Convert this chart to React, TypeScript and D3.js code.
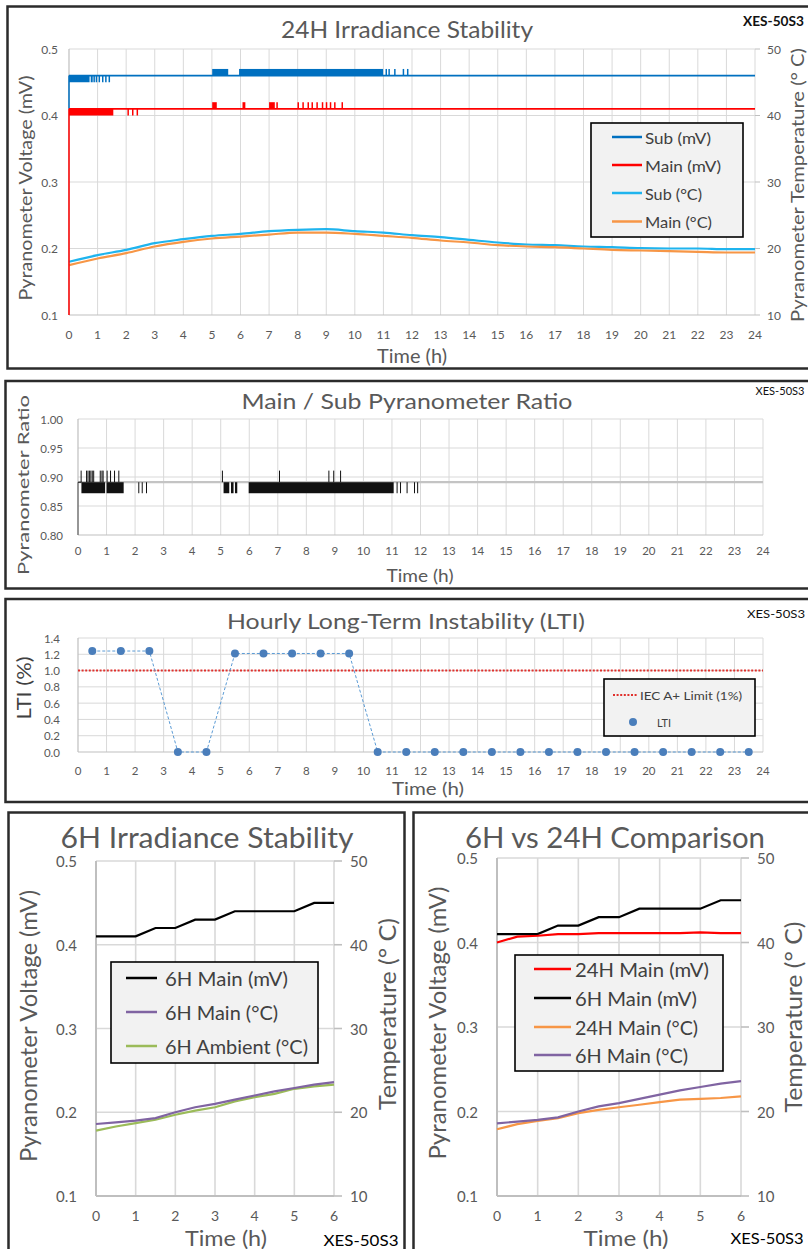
import React, { useRef, useEffect } from 'react'
import * as d3 from 'd3'

// ---------- shared tick labels ----------
const hourTicks24 = [0, 1, 2, 3, 4, 5, 6, 7, 8, 9, 10, 11, 12, 13, 14, 15, 16, 17, 18, 19, 20, 21, 22, 23, 24]
const hourTicks6 = [0, 1, 2, 3, 4, 5, 6]
const voltTicks = [0.1, 0.2, 0.3, 0.4, 0.5]
const tempTicks = [10, 20, 30, 40, 50]
const ratioTicks = [0.8, 0.85, 0.9, 0.95, 1.0]
const ltiTicks = [0, 0.2, 0.4, 0.6, 0.8, 1.0, 1.2, 1.4]

// ---------- 24H irradiance stability ----------
const subTempC = [18.0, 19.0, 19.8, 20.8, 21.4, 21.9, 22.2, 22.6, 22.8, 22.9, 22.6, 22.4, 22.0, 21.7, 21.3, 20.9, 20.6, 20.5, 20.3, 20.2, 20.05, 20.0, 20.0, 19.9, 19.9]
const mainTempC = [17.5, 18.5, 19.3, 20.3, 21.0, 21.5, 21.8, 22.1, 22.4, 22.4, 22.2, 21.9, 21.6, 21.2, 20.9, 20.5, 20.3, 20.2, 20.0, 19.8, 19.7, 19.6, 19.5, 19.4, 19.4]

const subStartMv = 0.41
const subBaseMv = 0.46
const subLowMv = 0.45
const subHighMv = 0.47
const subLowBlocks = [[0, 0.72], [0.76, 0.83]]
const subLowTicks = [0.88, 0.96, 1.06, 1.18, 1.29, 1.41]
const subHighBlocks = [[5.01, 5.57], [5.95, 10.99]]
const subHighTicks = [11.1, 11.2, 11.4, 11.7, 11.85]

const mainStartMv = 0.1
const mainBaseMv = 0.41
const mainLowMv = 0.40
const mainHighMv = 0.42
const mainLowBlocks = [[0, 1.55]]
const mainLowTicks = [2.07, 2.23, 2.39]
const mainHighBlocks = [[5.01, 5.17], [6.07, 6.17], [7.0, 7.2]]
const mainHighTicks = [7.28, 8.02, 8.19, 8.37, 8.51, 8.68, 8.87, 9.01, 9.15, 9.3, 9.56]

// ---------- main / sub ratio ----------
const ratioStart = 0.24
const ratioBase = 0.891
const ratioLow = 0.872
const ratioHigh = 0.911
const ratioLowBlocks = [[0.12, 0.95], [1.0, 1.6], [5.1, 5.3], [5.36, 5.45], [5.5, 5.58], [5.98, 11.06]]
const ratioLowTicks = [2.13, 2.25, 2.4, 11.18, 11.3, 11.53, 11.79, 11.9]
const ratioHighTicks = [0.11, 0.3, 0.35, 0.4, 0.45, 0.5, 0.55, 0.78, 0.84, 0.88, 1.02, 1.14, 1.28, 1.43, 5.06, 7.06, 8.79, 8.96, 9.2]

// ---------- hourly LTI ----------
const ltiHours = [0.5, 1.5, 2.5, 3.5, 4.5, 5.5, 6.5, 7.5, 8.5, 9.5, 10.5, 11.5, 12.5, 13.5, 14.5, 15.5, 16.5, 17.5, 18.5, 19.5, 20.5, 21.5, 22.5, 23.5]
const ltiValues = [1.24, 1.24, 1.24, 0, 0, 1.21, 1.21, 1.21, 1.21, 1.21, 0, 0, 0, 0, 0, 0, 0, 0, 0, 0, 0, 0, 0, 0]
const iecLimit = 1.0

// ---------- 6H runs ----------
const hours6 = [0, 0.5, 1, 1.5, 2, 2.5, 3, 3.5, 4, 4.5, 5, 5.5, 6]
const main6Mv = [0.41, 0.41, 0.41, 0.42, 0.42, 0.43, 0.43, 0.44, 0.44, 0.44, 0.44, 0.45, 0.45]
const main6TempC = [18.6, 18.8, 19.0, 19.3, 20.0, 20.6, 21.0, 21.5, 22.0, 22.5, 22.9, 23.3, 23.6]
const ambient6TempC = [17.8, 18.3, 18.7, 19.1, 19.7, 20.2, 20.6, 21.3, 21.8, 22.2, 22.8, 23.1, 23.3]
const main24Mv6 = [0.400, 0.407, 0.408, 0.410, 0.410, 0.411, 0.411, 0.411, 0.411, 0.411, 0.412, 0.411, 0.411]
const main24TempC6 = [17.9, 18.5, 18.9, 19.2, 19.8, 20.2, 20.5, 20.8, 21.1, 21.4, 21.5, 21.6, 21.8]

const FONT = 'Lato, "Open Sans", sans-serif'
const GRID = '#d9d9d9'
const AXIS = '#bfbfbf'
const GREY = '#595959'
const LEG = '#404040'

type Sel = d3.Selection<SVGGElement, unknown, null, undefined>
type Lin = d3.ScaleLinear<number, number>

interface TextOpts {
  size: number
  fill?: string
  anchor?: string
  weight?: string
  rotate?: number
  len?: number
}

function label(g: Sel, x: number, y: number, s: string, o: TextOpts) {
  const t = g.append('text')
    .attr('x', x)
    .attr('y', y)
    .attr('dominant-baseline', 'central')
    .attr('text-anchor', o.anchor || 'middle')
    .attr('font-family', FONT)
    .attr('font-size', o.size)
    .attr('font-weight', o.weight || 'normal')
    .attr('fill', o.fill || GREY)
    .text(s)
  if (o.rotate) t.attr('transform', `rotate(${o.rotate},${x},${y})`)
  if (o.len) t.attr('textLength', o.len).attr('lengthAdjust', 'spacingAndGlyphs')
  return t
}

function frame(g: Sel, x0: number, y0: number, x1: number, y1: number) {
  g.append('rect')
    .attr('x', x0).attr('y', y0)
    .attr('width', x1 - x0).attr('height', y1 - y0)
    .attr('fill', 'none')
    .attr('stroke', '#2b2b2b')
    .attr('stroke-width', 2.5)
}

function grid(g: Sel, x: Lin, y: Lin, xt: number[], yt: number[], w = 1, aw = 1.2) {
  const [ya, yb] = y.range()
  const [xa, xb] = x.range()
  g.selectAll(null).data(xt.slice(1)).join('line')
    .attr('x1', d => x(d)).attr('x2', d => x(d))
    .attr('y1', ya).attr('y2', yb)
    .attr('stroke', GRID).attr('stroke-width', w)
  g.selectAll(null).data(yt.slice(1)).join('line')
    .attr('x1', xa).attr('x2', xb)
    .attr('y1', d => y(d)).attr('y2', d => y(d))
    .attr('stroke', GRID).attr('stroke-width', w)
  g.append('line').attr('x1', xa).attr('x2', xa).attr('y1', ya).attr('y2', yb)
    .attr('stroke', AXIS).attr('stroke-width', aw)
  g.append('line').attr('x1', xa).attr('x2', xb).attr('y1', ya).attr('y2', ya)
    .attr('stroke', AXIS).attr('stroke-width', aw)
}

function rightTicks(g: Sel, x: Lin, y: Lin, yt: number[], len: number, w: number) {
  const xr = x.range()[1]
  g.selectAll(null).data(yt).join('line')
    .attr('x1', xr).attr('x2', xr + len)
    .attr('y1', d => y(d)).attr('y2', d => y(d))
    .attr('stroke', AXIS).attr('stroke-width', w)
}

// dense toggling between a base level and another level, drawn as blocks and single ticks
function toggles(g: Sel, x: Lin, y: Lin, base: number, level: number, blocks: number[][], ticks: number[], color: string, tw: number) {
  g.selectAll(null).data(blocks).join('rect')
    .attr('x', d => x(d[0]))
    .attr('width', d => x(d[1]) - x(d[0]))
    .attr('y', Math.min(y(base), y(level)))
    .attr('height', Math.abs(y(base) - y(level)))
    .attr('fill', color)
  g.selectAll(null).data(ticks).join('line')
    .attr('x1', d => x(d)).attr('x2', d => x(d))
    .attr('y1', y(base)).attr('y2', y(level))
    .attr('stroke', color).attr('stroke-width', tw)
}

function legendRow(g: Sel, x0: number, x1: number, tx: number, y: number, color: string, s: string, size: number, len: number, w: number) {
  g.append('line').attr('x1', x0).attr('x2', x1).attr('y1', y).attr('y2', y)
    .attr('stroke', color).attr('stroke-width', w)
  label(g, tx, y, s, { size, anchor: 'start', fill: LEG, len })
}

function legendBox(g: Sel, x: number, y: number, w: number, h: number) {
  g.append('rect').attr('x', x).attr('y', y).attr('width', w).attr('height', h)
    .attr('fill', '#f2f2f2').attr('stroke', '#000').attr('stroke-width', 1.6)
}

const fmt1 = d3.format('.1f')
const fmt2 = d3.format('.2f')

function drawStability24(g: Sel) {
  const x = d3.scaleLinear().domain([0, 24]).range([69, 755])
  const yV = d3.scaleLinear().domain([0.1, 0.5]).range([315, 49])
  const yT = d3.scaleLinear().domain([10, 50]).range([315, 49])
  frame(g, 7.5, 6.5, 812, 368.5)
  grid(g, x, yV, hourTicks24, voltTicks)
  rightTicks(g, x, yT, tempTicks, 5, 1)

  const line = d3.line<number>().x((_, i) => x(hourTicks24[i])).y(d => yT(d)).curve(d3.curveMonotoneX)
  g.append('path').attr('d', line(subTempC)).attr('fill', 'none').attr('stroke', '#1fb4ee').attr('stroke-width', 2.2)
  g.append('path').attr('d', line(mainTempC)).attr('fill', 'none').attr('stroke', '#f79646').attr('stroke-width', 2.2)

  // Sub (mV)
  g.append('line').attr('x1', x(0)).attr('x2', x(0)).attr('y1', yV(subStartMv)).attr('y2', yV(subBaseMv))
    .attr('stroke', '#0070c0').attr('stroke-width', 1.5)
  g.append('line').attr('x1', x(0)).attr('x2', x(24)).attr('y1', yV(subBaseMv)).attr('y2', yV(subBaseMv))
    .attr('stroke', '#0070c0').attr('stroke-width', 1.8)
  toggles(g, x, yV, subBaseMv, subLowMv, subLowBlocks, subLowTicks, '#0070c0', 1.5)
  toggles(g, x, yV, subBaseMv, subHighMv, subHighBlocks, subHighTicks, '#0070c0', 1.5)

  // Main (mV)
  g.append('line').attr('x1', x(0)).attr('x2', x(0)).attr('y1', yV(mainStartMv)).attr('y2', yV(mainBaseMv))
    .attr('stroke', '#ff0000').attr('stroke-width', 1.5)
  g.append('line').attr('x1', x(0)).attr('x2', x(24)).attr('y1', yV(mainBaseMv)).attr('y2', yV(mainBaseMv))
    .attr('stroke', '#ff0000').attr('stroke-width', 1.8)
  toggles(g, x, yV, mainBaseMv, mainLowMv, mainLowBlocks, mainLowTicks, '#ff0000', 1.5)
  toggles(g, x, yV, mainBaseMv, mainHighMv, mainHighBlocks, mainHighTicks, '#ff0000', 1.5)

  voltTicks.forEach(v => label(g, 58, yV(v), fmt1(v), { size: 12, anchor: 'end' }))
  tempTicks.forEach(v => label(g, 767, yT(v), String(v), { size: 12, anchor: 'start' }))
  hourTicks24.forEach(h => label(g, x(h), 334, String(h), { size: 12 }))
  label(g, 407, 28, '24H Irradiance Stability', { size: 24, len: 252 })
  label(g, 773.5, 20, 'XES-50S3', { size: 14, weight: 'bold', fill: '#111', len: 61 })
  label(g, 25, 188, 'Pyranometer Voltage (mV)', { size: 18, rotate: -90, len: 225 })
  label(g, 797, 185, 'Pyranometer Temperature (° C)', { size: 18, rotate: -90, len: 274 })
  label(g, 412, 355, 'Time (h)', { size: 19, len: 70 })

  legendBox(g, 591, 123, 152, 114)
  legendRow(g, 612, 642, 645, 137, '#0070c0', 'Sub (mV)', 16, 66, 2.5)
  legendRow(g, 612, 642, 645, 165, '#ff0000', 'Main (mV)', 16, 76, 2.5)
  legendRow(g, 612, 642, 645, 193, '#1fb4ee', 'Sub (°C)', 16, 57, 2.5)
  legendRow(g, 612, 642, 645, 221.5, '#f79646', 'Main (°C)', 16, 67, 2.5)
}

function drawRatio(g: Sel) {
  const x = d3.scaleLinear().domain([0, 24]).range([78, 763])
  const y = d3.scaleLinear().domain([0.8, 1.0]).range([535, 419])
  frame(g, 5.5, 381, 812, 588.5)
  grid(g, x, y, hourTicks24, ratioTicks)

  g.append('line').attr('x1', x(0)).attr('x2', x(24)).attr('y1', y(ratioBase)).attr('y2', y(ratioBase))
    .attr('stroke', '#c4c4c4').attr('stroke-width', 2.2)
  const yc = y.copy().clamp(true)
  g.append('line').attr('x1', x(0)).attr('x2', x(0)).attr('y1', yc(ratioStart)).attr('y2', yc(ratioBase))
    .attr('stroke', '#555').attr('stroke-width', 1)
  g.append('line').attr('x1', x(0)).attr('x2', x(ratioLowBlocks[0][0])).attr('y1', y(ratioBase)).attr('y2', y(ratioBase))
    .attr('stroke', '#111').attr('stroke-width', 1)
  toggles(g, x, y, ratioBase, ratioLow, ratioLowBlocks, ratioLowTicks, '#111', 1)
  toggles(g, x, y, ratioBase, ratioHigh, [], ratioHighTicks, '#111', 1)

  ratioTicks.forEach(v => label(g, 63, y(v), fmt2(v), { size: 11.5, anchor: 'end' }))
  hourTicks24.forEach(h => label(g, x(h), 550, String(h), { size: 11.5 }))
  label(g, 407, 400, 'Main / Sub Pyranometer Ratio', { size: 22, len: 331 })
  label(g, 780, 390, 'XES-50S3', { size: 12, fill: '#111', len: 49 })
  label(g, 23, 485, 'Pyranometer Ratio', { size: 15, rotate: -90, len: 180 })
  label(g, 420, 575, 'Time (h)', { size: 18, len: 67 })
}

function drawLti(g: Sel) {
  const x = d3.scaleLinear().domain([0, 24]).range([78, 763])
  const y = d3.scaleLinear().domain([0, 1.4]).range([752, 638])
  frame(g, 5.5, 599, 812, 802)
  grid(g, x, y, hourTicks24, ltiTicks)

  g.append('line').attr('x1', x(0)).attr('x2', x(24)).attr('y1', y(iecLimit)).attr('y2', y(iecLimit))
    .attr('stroke', '#e0302c').attr('stroke-width', 2).attr('stroke-dasharray', '2,1.6')
  const line = d3.line<number>().x((_, i) => x(ltiHours[i])).y(d => y(d))
  g.append('path').attr('d', line(ltiValues)).attr('fill', 'none')
    .attr('stroke', '#5b9bd5').attr('stroke-width', 1).attr('stroke-dasharray', '3,2')
  g.selectAll(null).data(ltiValues).join('circle')
    .attr('cx', (_, i) => x(ltiHours[i])).attr('cy', d => y(d)).attr('r', 4)
    .attr('fill', '#4a7ebb')

  ltiTicks.forEach(v => label(g, 60, y(v), fmt1(v), { size: 11.5, anchor: 'end' }))
  hourTicks24.forEach(h => label(g, x(h), 770, String(h), { size: 11.5 }))
  label(g, 406, 620, 'Hourly Long-Term Instability (LTI)', { size: 22, len: 358 })
  label(g, 776, 613, 'XES-50S3', { size: 12, fill: '#111', len: 58 })
  label(g, 23, 688, 'LTI (%)', { size: 19, rotate: -90, len: 63, fill: LEG })
  label(g, 428, 788, 'Time (h)', { size: 18, len: 72 })

  legendBox(g, 604, 679, 151, 57)
  g.append('line').attr('x1', 613).attr('x2', 637).attr('y1', 695).attr('y2', 695)
    .attr('stroke', '#e0302c').attr('stroke-width', 2).attr('stroke-dasharray', '2,1.6')
  label(g, 640, 695, 'IEC A+ Limit (1%)', { size: 11, anchor: 'start', fill: LEG, len: 102 })
  g.append('circle').attr('cx', 633).attr('cy', 722).attr('r', 4).attr('fill', '#4a7ebb')
  label(g, 657, 722, 'LTI', { size: 11, anchor: 'start', fill: LEG, len: 14 })
}

interface Series6 { values: number[]; color: string; temp: boolean }

function draw6(g: Sel, xr: [number, number], yr: [number, number], series: Series6[]) {
  const x = d3.scaleLinear().domain([0, 6]).range(xr)
  const yV = d3.scaleLinear().domain([0.1, 0.5]).range(yr)
  const yT = d3.scaleLinear().domain([10, 50]).range(yr)
  grid(g, x, yV, hourTicks6, voltTicks, 1.6, 2)
  rightTicks(g, x, yT, tempTicks, 8, 1.6)
  series.forEach(s => {
    const yy = s.temp ? yT : yV
    const line = d3.line<number>().x((_, i) => x(hours6[i])).y(d => yy(d))
    g.append('path').attr('d', line(s.values)).attr('fill', 'none')
      .attr('stroke', s.color).attr('stroke-width', 2.2)
  })
  return { x, yV, yT }
}

function drawSix(g: Sel) {
  frame(g, 8.5, 812.5, 404.5, 1256)
  const { x, yV, yT } = draw6(g, [96, 334], [1196, 861], [
    { values: ambient6TempC, color: '#9bbb59', temp: true },
    { values: main6TempC, color: '#8064a2', temp: true },
    { values: main6Mv, color: '#000', temp: false },
  ])
  voltTicks.forEach(v => label(g, 77, yV(v), fmt1(v), { size: 15, anchor: 'end' }))
  tempTicks.forEach(v => label(g, 350, yT(v), String(v), { size: 15, anchor: 'start' }))
  hourTicks6.forEach(h => label(g, x(h), 1215, String(h), { size: 14 }))
  label(g, 207, 837, '6H Irradiance Stability', { size: 28, len: 293 })
  label(g, 28, 1026, 'Pyranometer Voltage (mV)', { size: 23, rotate: -90, len: 272 })
  label(g, 387, 1014, 'Temperature (° C)', { size: 23, rotate: -90, len: 192 })
  label(g, 226, 1237, 'Time (h)', { size: 21, len: 82 })
  label(g, 361, 1239, 'XES-50S3', { size: 16, fill: '#000', len: 75 })

  legendBox(g, 111, 962, 207, 101)
  legendRow(g, 126, 157, 165, 978, '#000', '6H Main (mV)', 19, 123, 2.5)
  legendRow(g, 126, 157, 165, 1012, '#8064a2', '6H Main (°C)', 19, 113, 2.5)
  legendRow(g, 126, 157, 165, 1046, '#9bbb59', '6H Ambient (°C)', 19, 143, 2.5)
}

function drawCompare(g: Sel) {
  frame(g, 413.5, 812.5, 812, 1256)
  const { x, yV, yT } = draw6(g, [497, 741], [1196, 858], [
    { values: main24TempC6, color: '#f79646', temp: true },
    { values: main6TempC, color: '#8064a2', temp: true },
    { values: main6Mv, color: '#000', temp: false },
    { values: main24Mv6, color: '#ff0000', temp: false },
  ])
  voltTicks.forEach(v => label(g, 478, yV(v), fmt1(v), { size: 15, anchor: 'end' }))
  tempTicks.forEach(v => label(g, 757, yT(v), String(v), { size: 15, anchor: 'start' }))
  hourTicks6.forEach(h => label(g, x(h), 1215, String(h), { size: 14 }))
  label(g, 615, 837, '6H vs 24H Comparison', { size: 28, len: 300 })
  label(g, 437, 1023, 'Pyranometer Voltage (mV)', { size: 23, rotate: -90, len: 273 })
  label(g, 793, 1017, 'Temperature (° C)', { size: 23, rotate: -90, len: 191 })
  label(g, 626, 1237, 'Time (h)', { size: 21, len: 85 })
  label(g, 767, 1237, 'XES-50S3', { size: 16, fill: '#000', len: 73 })

  legendBox(g, 515, 955, 208, 116)
  legendRow(g, 534, 571, 575, 969, '#ff0000', '24H Main (mV)', 19, 134, 2.5)
  legendRow(g, 534, 571, 575, 998, '#000', '6H Main (mV)', 19, 122, 2.5)
  legendRow(g, 534, 571, 575, 1027, '#f79646', '24H Main (°C)', 19, 123, 2.5)
  legendRow(g, 534, 571, 575, 1055, '#8064a2', '6H Main (°C)', 19, 113, 2.5)
}

const App: React.FC = () => {
  const svgRef = useRef<SVGSVGElement>(null)

  useEffect(() => {
    if (!svgRef.current) return
    const svg = d3.select(svgRef.current)
    svg.selectAll('*').remove()
    const root = svg.append('g') as unknown as Sel
    drawStability24(root.append('g'))
    drawRatio(root.append('g'))
    drawLti(root.append('g'))
    drawSix(root.append('g'))
    drawCompare(root.append('g'))
  }, [])

  return (
    <svg
      ref={svgRef}
      width={808}
      height={1249}
      style={{ position: 'absolute', left: 0, top: 0, background: '#fff' }}
    />
  )
}

export default App
